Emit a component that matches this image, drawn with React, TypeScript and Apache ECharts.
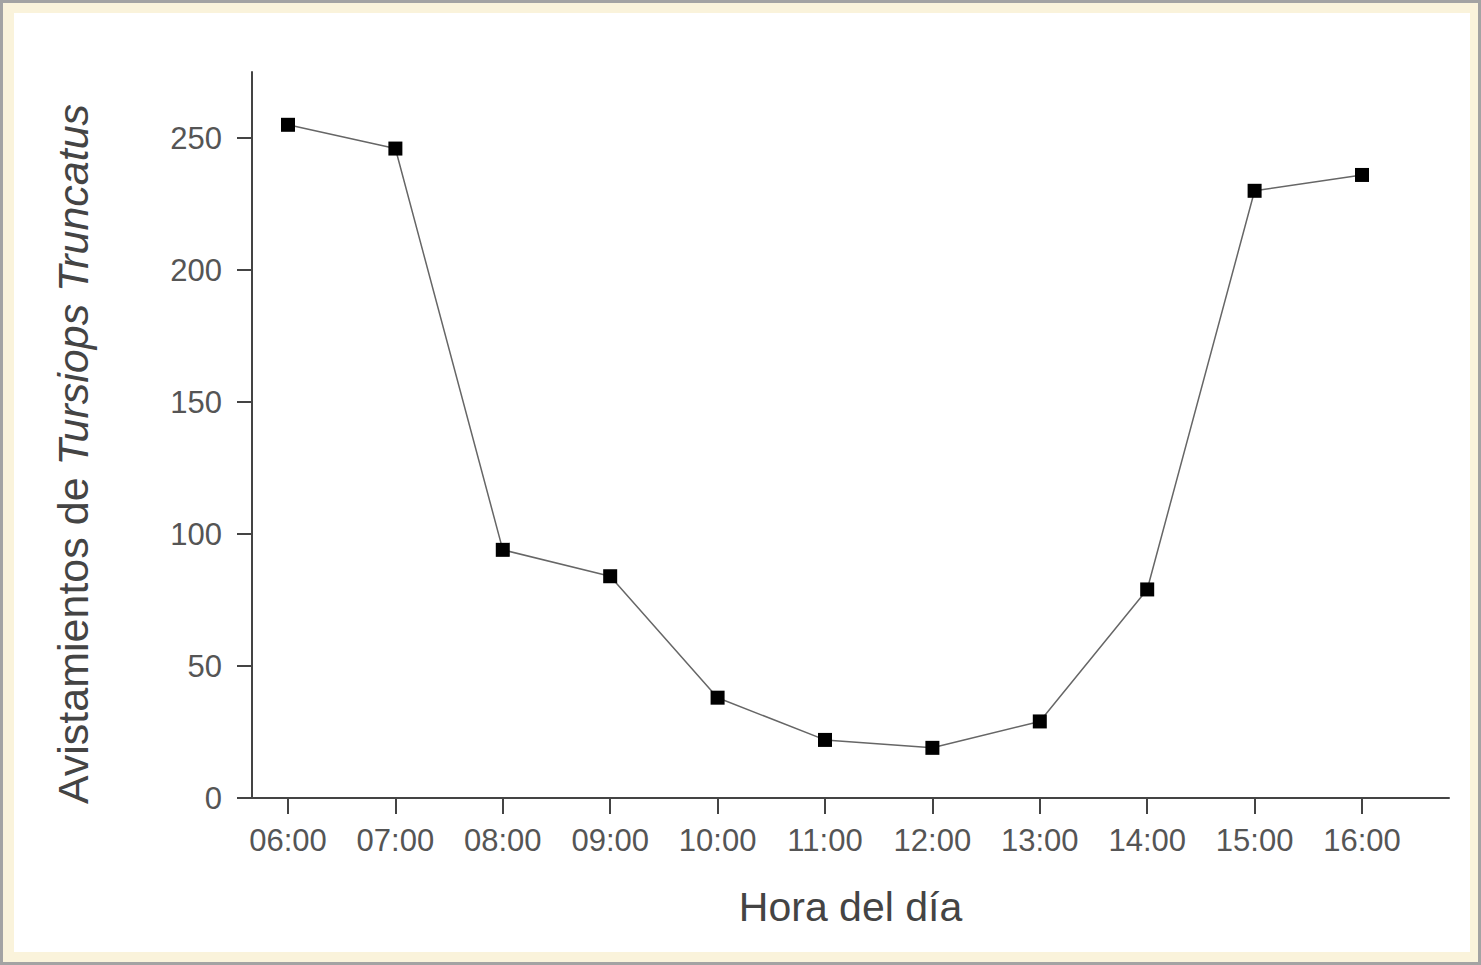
import React, { useEffect, useRef } from "react";
import * as echarts from "echarts";

const hours = ["06:00", "07:00", "08:00", "09:00", "10:00", "11:00", "12:00", "13:00", "14:00", "15:00", "16:00"];
const sightings = [255, 246, 94, 84, 38, 22, 19, 29, 79, 230, 236];
const yTicks = [0, 50, 100, 150, 200, 250];
const xTicks = hours.map((_, i) => i);

export default function App() {
  const ref = useRef<HTMLDivElement>(null);
  useEffect(() => {
    document.body.style.margin = "0";
    const chart = echarts.init(ref.current!, null, { renderer: "svg" });
    const font = "Liberation Sans, Arial, Helvetica, sans-serif";
    chart.setOption({
      animation: false,
      backgroundColor: "transparent",
      grid: { left: 252, right: 32, top: 72, bottom: 167 },
      xAxis: {
        type: "value",
        min: -0.335,
        max: 10.81,
        name: "Hora del día",
        nameLocation: "middle",
        nameGap: 88,
        nameTextStyle: { fontFamily: font, fontSize: 41, color: "#444" },
        axisLine: { show: true, onZero: false, lineStyle: { color: "#444", width: 2 } },
        axisTick: { show: true, length: 16, customValues: xTicks, lineStyle: { color: "#444", width: 2 } },
        axisLabel: {
          customValues: xTicks,
          formatter: (v: number) => hours[Math.round(v)] ?? "",
          fontFamily: font,
          fontSize: 31,
          color: "#555",
          margin: 27,
        },
        splitLine: { show: false },
      },
      yAxis: {
        type: "value",
        min: 0,
        max: 275,
        name: "{n|Avistamientos de }{i|Tursiops Truncatus}",
        nameLocation: "middle",
        nameGap: 158,
        nameRotate: 90,
        nameTextStyle: {
          padding: [0, 38, 0, 0],
          rich: {
            n: { fontFamily: font, fontSize: 43, color: "#444" },
            i: { fontFamily: font, fontSize: 43, fontStyle: "italic", color: "#444" },
          },
        },
        axisLine: { show: true, onZero: false, lineStyle: { color: "#444", width: 2 } },
        axisTick: { show: true, length: 15, customValues: yTicks, lineStyle: { color: "#444", width: 2 } },
        axisLabel: {
          customValues: yTicks,
          fontFamily: font,
          fontSize: 31,
          color: "#555",
          margin: 30,
        },
        splitLine: { show: false },
      },
      series: [
        {
          type: "line",
          data: sightings.map((v, i) => [i, v]),
          symbol: "rect",
          symbolSize: 14,
          itemStyle: { color: "#000" },
          lineStyle: { color: "#666", width: 1.5 },
        },
      ],
    });
    return () => chart.dispose();
  }, []);
  return (
    <div
      style={{
        position: "fixed",
        left: 0,
        top: 0,
        width: 1481,
        height: 965,
        boxSizing: "border-box",
        border: "3px solid #a3a3a3",
        background: "#faf3db",
      }}
    >
      <div style={{ position: "absolute", left: 11, top: 10, width: 1456, height: 939, background: "#fff" }} />
      <div ref={ref} style={{ position: "absolute", left: -3, top: -3, width: 1481, height: 965 }} />
    </div>
  );
}
